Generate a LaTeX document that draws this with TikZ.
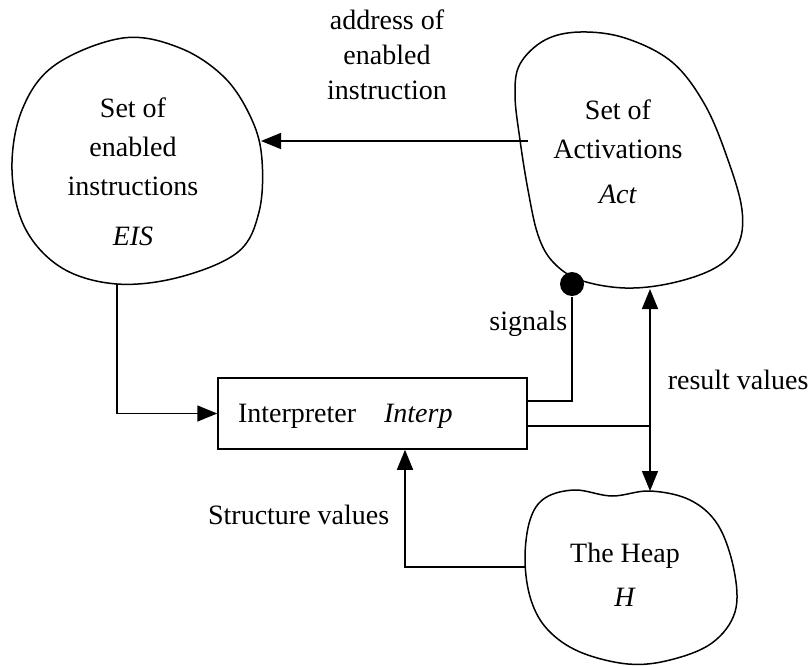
\documentclass[tikz,border=0pt]{standalone}
\usepackage{fontspec}
\setmainfont{Liberation Serif}
\usetikzlibrary{arrows.meta}

\begin{document}
\begin{tikzpicture}[x=1pt, y=-1pt, line width=1.5pt,
  txt/.style={font=\fontsize{28}{39}\selectfont, align=center, inner sep=0pt},
  procbox/.style={draw, font=\fontsize{28}{34}\selectfont, text width=269pt,
    minimum height=71pt, inner xsep=20pt, text depth=0pt, align=left},
  sigdot/.style={circle, fill, inner sep=0pt, minimum size=24pt},
  flow/.style={-{Triangle[length=20pt,width=16pt]}},
  flows/.style={{Triangle[length=20pt,width=16pt]}-{Triangle[length=20pt,width=16pt]}}]
\useasboundingbox (0,0) rectangle (809,665);

%%%%% Sets %%%%%
\draw plot[smooth cycle, tension=0.6] coordinates {(123,38) (180,48) (225,78) (252,120)
  (262,160) (259,212) (238,252) (180,277) (117,284) (62,268) (25,228) (12,170) (22,110) (55,65)};
\draw plot[smooth cycle, tension=0.6] coordinates {(520,64) (545,40) (580,32) (625,38)
  (672,62) (705,105) (728,160) (742,210) (738,245) (715,268) (672,283) (625,288)
  (580,280) (553,262) (538,235) (528,190) (520,140) (515,95)};
\draw plot[smooth cycle, tension=0.6] coordinates {(530,520) (545,498) (575,490) (612,496)
  (650,491) (690,500) (718,525) (734,570) (735,612) (712,643) (670,660) (628,664)
  (580,652) (548,630) (531,600) (525,560)};

\node[txt] (eis) at (133,172) {Set of\\enabled\\instructions\\[11pt]\textit{EIS}};
\node[txt] (act) at (618,152) {Set of\\Activations\\[6pt]\textit{Act}};
\node[txt] (heap) at (625,575) {The Heap\\[5pt]\textit{H}};

% points on the outlines
\coordinate (eis-e) at (261,141);
\coordinate (eis-s) at (117,284);
\coordinate (act-w) at (528,141);
\coordinate (act-s) at (650,289);
\coordinate (heap-n) at (650,491);
\coordinate (heap-w) at (525,567);
\coordinate (res) at (650,426);

%%%%% Interpreter %%%%%
\node[procbox] (interp) at (372.5,413.5) {Interpreter\quad\textit{Interp}};
\node[sigdot] (sig) at (572,284) {};

%%%%% Connections %%%%%
\draw[flow] (act-w) -- (eis-e);
\draw[flow] (eis-s) |- (interp.west);
\draw ([yshift=12.5pt]interp.east) -| (sig);
\draw ([yshift=-12.5pt]interp.east) -- (res);
\draw[flows] (act-s) -- (heap-n);
\draw[flow] (heap-w) -| ([xshift=32.5pt]interp.south);

%%%%% Labels %%%%%
\node[txt, font=\fontsize{28}{35}\selectfont] (addr) at (387,55) {address of\\enabled\\instruction};
\node[txt, anchor=east] (signals) at (568,324) {signals};
\node[txt, anchor=west] (result) at (667,380) {result values};
\node[txt, anchor=east] (structure) at (390,515) {Structure values};
\end{tikzpicture}
\end{document}
